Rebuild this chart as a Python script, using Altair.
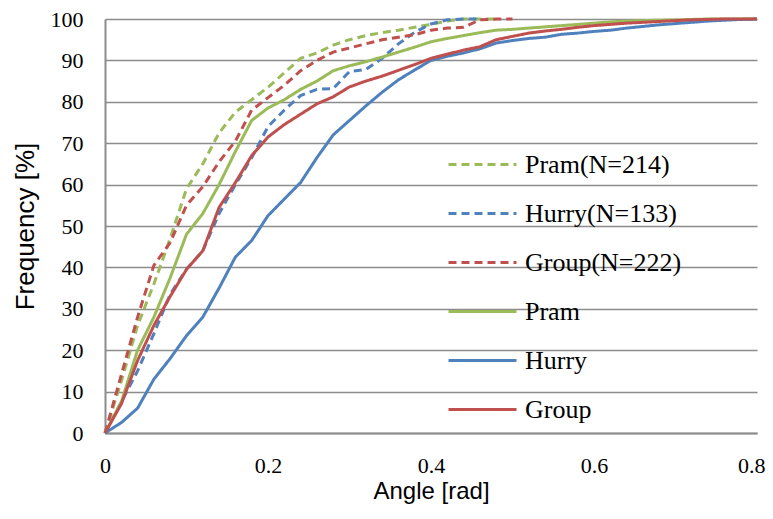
import altair as alt
import pandas as pd

# x sampling positions (rad)
angles = [0.00, 0.02, 0.04, 0.06, 0.08, 0.10, 0.12, 0.14, 0.16, 0.18,
          0.20, 0.22, 0.24, 0.26, 0.28, 0.30, 0.32, 0.34, 0.36, 0.38,
          0.40, 0.42, 0.44, 0.46, 0.48, 0.50, 0.52, 0.54, 0.56, 0.58,
          0.60, 0.62, 0.64, 0.66, 0.68, 0.70, 0.72, 0.74, 0.76, 0.78, 0.80]

pram_n = [0, 12.5, 26, 36, 47, 59, 65, 72.5, 77.5, 80.5, 83.5, 87, 90.5, 91.8, 93.7,
          95, 96, 96.7, 97.3, 98, 98.7, 99.5, 100, 100, 100]
hurry_n = [0, 7.5, 15, 24, 33.5, 39.6, 44, 53, 60, 66.5, 74, 78, 81.5, 83, 83.2,
           87.3, 87.8, 90.5, 94, 96.8, 98.8, 99.8, 100, 100]
group_n = [0, 14, 28, 40.5, 46, 55, 59.5, 65.5, 70.5, 78, 81, 84, 87.5, 90, 92,
           93, 94, 95, 95.6, 96.2, 97.3, 97.8, 98, 99.8, 100, 100]
pram = [0, 7.5, 20, 28, 37.5, 48, 53, 60, 68, 75.5, 78.5, 80.5, 83, 85, 87.5,
        88.7, 89.7, 90.8, 92, 93.2, 94.5, 95.3, 96, 96.7, 97.3, 97.5, 97.8, 98.1,
        98.4, 98.7, 99, 99.3, 99.5, 99.6, 99.7, 99.8, 99.9, 100, 100, 100, 100]
hurry = [0, 2.5, 6, 13, 18, 23.5, 28, 35, 42.5, 46.5, 52.5, 56.5, 60.5, 66.5, 72,
         75.5, 79, 82.3, 85.3, 87.7, 90, 91, 91.8, 92.8, 94.2, 94.8, 95.3, 95.6,
         96.3, 96.6, 97.0, 97.3, 97.8, 98.2, 98.6, 98.9, 99.2, 99.5, 99.7, 99.9, 100]
group = [0, 7, 17.5, 26, 33, 39.5, 44, 54.5, 60.5, 67, 71.5, 74.5, 77, 79.5, 81.2,
         83.6, 85, 86.2, 87.6, 89, 90.5, 91.5, 92.5, 93.3, 95, 95.8, 96.6, 97.1,
         97.5, 98, 98.4, 98.7, 99, 99.2, 99.4, 99.6, 99.8, 99.9, 100, 100, 100]

series_names = ["Pram(N=214)", "Hurry(N=133)", "Group(N=222)", "Pram", "Hurry", "Group"]
series_values = [pram_n, hurry_n, group_n, pram, hurry, group]
colors = ["#9BBB59", "#4F81BD", "#C0504D", "#9BBB59", "#4F81BD", "#C0504D"]
dashes = [[8, 5], [8, 5], [8, 5], [1, 0], [1, 0], [1, 0]]

rows = []
for name, vals in zip(series_names, series_values):
    for a, v in zip(angles, vals):
        rows.append({"series": name, "angle": a, "freq": v})
df = pd.DataFrame(rows)

serif = "Liberation Serif, Times New Roman, serif"
narrow = "Liberation Sans Narrow, Arial Narrow, Liberation Sans, sans-serif"

chart = alt.Chart(df).mark_line(strokeWidth=3).encode(
    x=alt.X("angle:Q", scale=alt.Scale(domain=[0, 0.8], nice=False),
            axis=alt.Axis(values=[0, 0.2, 0.4, 0.6, 0.8], format=".1~f",
                          title="Angle [rad]", grid=False, labelPadding=22,
                          labelFlush=False, titlePadding=3, titleFontSize=24,
                          labelAlign={"condition": {"test": "datum.value >= 0.79", "value": "right"},
                                      "value": "center"},
                          labelOffset={"condition": {"test": "datum.value >= 0.79", "value": 8},
                                       "value": 0})),
    y=alt.Y("freq:Q", scale=alt.Scale(domain=[0, 100], nice=False),
            axis=alt.Axis(values=list(range(0, 101, 10)), title="Frequency [%]",
                          grid=True, labelPadding=22, titlePadding=12)),
    color=alt.Color("series:N",
                    scale=alt.Scale(domain=series_names, range=colors),
                    legend=alt.Legend(title=None, orient="none", legendX=342, legendY=110,
                                      symbolType="stroke", symbolSize=4624,
                                      symbolStrokeWidth=3, labelFont=serif,
                                      labelFontSize=26, labelColor="#000",
                                      labelOffset=7, rowPadding=0, padding=0,
                                      labelLimit=300)),
    strokeDash=alt.StrokeDash("series:N",
                              scale=alt.Scale(domain=series_names, range=dashes),
                              legend=None),
    detail="series:N",
    order="angle:Q",
).properties(
    width=652, height=414,
    autosize=alt.AutoSizeParams(type="none"),
    padding={"left": 97, "top": 11, "right": 8, "bottom": 78},
).configure_view(stroke=None).configure_axis(
    domainColor="#8c8c8c", domainWidth=2, gridColor="#8c8c8c", gridWidth=1.5,
    ticks=False, labelFont=serif, labelFontSize=22, labelColor="#000",
    titleFont=narrow, titleFontSize=26, titleFontWeight="normal", titleColor="#000",
)

chart.save("out.html", embed_options={"renderer": "svg", "actions": False})
